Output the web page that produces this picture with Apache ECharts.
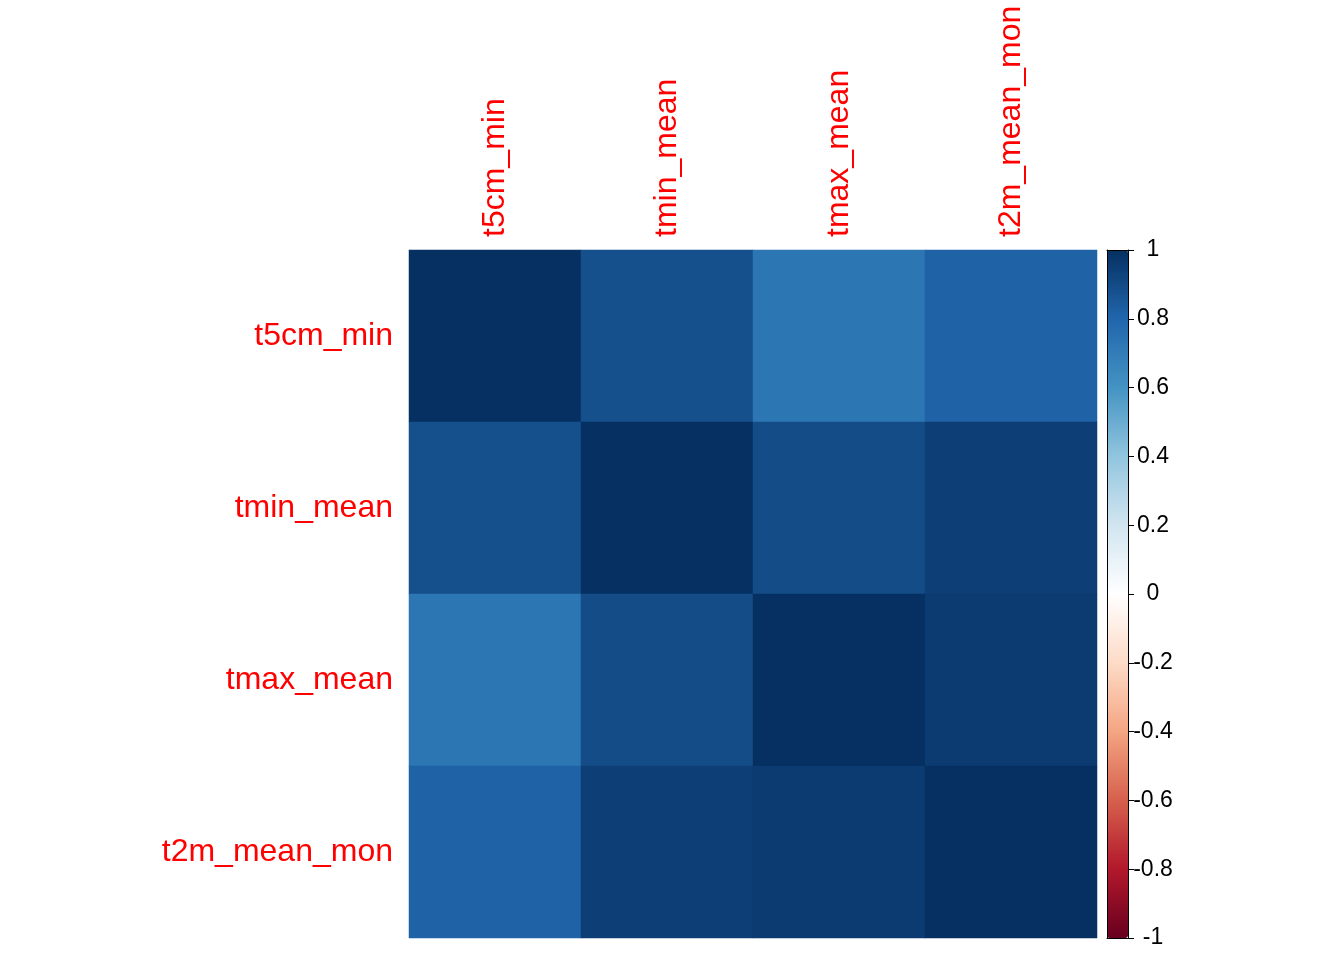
<!DOCTYPE html>
<html>
<head>
<meta charset="utf-8">
<script src="https://cdn.jsdelivr.net/npm/echarts@6/dist/echarts.min.js"></script>
<style>
html,body{margin:0;padding:0;background:#fff;}
#main{width:1344px;height:960px;}
</style>
</head>
<body>
<div id="main"></div>
<script>
var variables = ['t5cm_min', 'tmin_mean', 'tmax_mean', 't2m_mean_mon'];
var corrRows = [
  [1.000, 0.885, 0.730, 0.815],
  [0.885, 1.000, 0.895, 0.945],
  [0.730, 0.895, 1.000, 0.960],
  [0.815, 0.945, 0.960, 1.000]
];
var legendTicks = [-1, -0.8, -0.6, -0.4, -0.2, 0, 0.2, 0.4, 0.6, 0.8, 1];
var rdbu = ['#67001F', '#B2182B', '#D6604D', '#F4A582', '#FDDBC7', '#FFFFFF',
            '#D1E5F0', '#92C5DE', '#4393C3', '#2166AC', '#053061'];

var cells = [];
for (var r = 0; r < variables.length; r++) {
  for (var c = 0; c < variables.length; c++) {
    cells.push([c, r, corrRows[r][c]]);
  }
}

var FONT = 'Liberation Sans, Arial, Helvetica, sans-serif';
var chart = echarts.init(document.getElementById('main'));
chart.setOption({
  animation: false,
  backgroundColor: '#ffffff',
  grid: [
    {left: 409, top: 250, width: 688, height: 688, containLabel: false},
    {left: 1107, top: 250, width: 21, height: 688, show: false}
  ],
  xAxis: [
    {type: 'category', data: variables, position: 'top', gridIndex: 0,
     axisLine: {show: false}, axisTick: {show: false}, splitLine: {show: false},
     axisLabel: {rotate: -90, color: '#ff0000', fontSize: 32, fontFamily: FONT, margin: 13}},
    {type: 'value', gridIndex: 1, min: 0, max: 1, position: 'bottom', z: 6,
     axisLine: {show: true, onZero: false, lineStyle: {color: '#000', width: 1}},
     axisTick: {show: false}, axisLabel: {show: false}, splitLine: {show: false}},
    {type: 'value', gridIndex: 1, min: 0, max: 1, position: 'top', z: 6,
     axisLine: {show: true, onZero: false, lineStyle: {color: '#000', width: 1}},
     axisTick: {show: false}, axisLabel: {show: false}, splitLine: {show: false}}
  ],
  yAxis: [
    {type: 'category', data: variables, inverse: true, gridIndex: 0,
     axisLine: {show: false}, axisTick: {show: false}, splitLine: {show: false},
     axisLabel: {color: '#ff0000', fontSize: 32, fontFamily: FONT, margin: 16}},
    {type: 'value', gridIndex: 1, min: -1, max: 1, interval: 0.2, position: 'right', z: 6,
     axisLine: {show: true, onZero: false, lineStyle: {color: '#000', width: 1}},
     splitLine: {show: false},
     axisTick: {show: true, length: 6, lineStyle: {color: '#000', width: 1}},
     axisLabel: {show: true, color: '#000', fontSize: 23, fontFamily: FONT, margin: 25, align: 'center',
       padding: [10, 0, 0, 0],
       formatter: function (v) {
         var t = Math.round(v * 10) / 10;
         for (var i = 0; i < legendTicks.length; i++) {
           if (Math.abs(legendTicks[i] - t) < 1e-6) return String(legendTicks[i]);
         }
         return '';
       }}},
    {type: 'value', gridIndex: 1, min: -1, max: 1, position: 'left', z: 6,
     axisLine: {show: true, onZero: false, lineStyle: {color: '#000', width: 1}},
     axisTick: {show: false}, axisLabel: {show: false}, splitLine: {show: false}}
  ],
  visualMap: {
    type: 'continuous', min: -1, max: 1, orient: 'vertical', z: 0,
    left: 1107, top: 250, itemWidth: 21, itemHeight: 688, padding: 0,
    calculable: false, hoverLink: false, text: null, showLabel: false,
    inRange: {color: rdbu}, seriesIndex: 0
  },
  series: [{
    type: 'heatmap', xAxisIndex: 0, yAxisIndex: 0, data: cells,
    itemStyle: {borderWidth: 0}, emphasis: {disabled: true}
  }]
});
</script>
</body>
</html>
